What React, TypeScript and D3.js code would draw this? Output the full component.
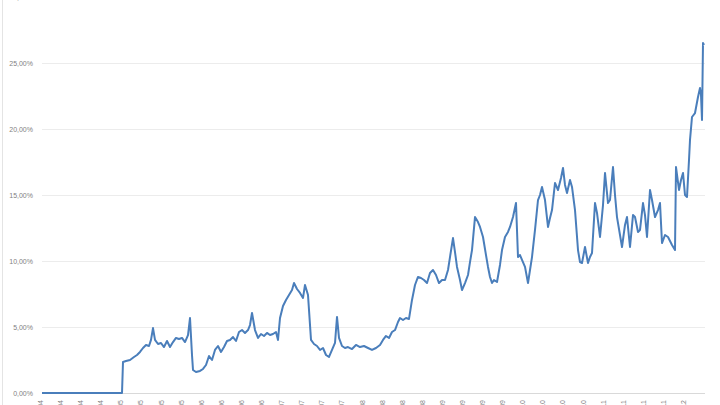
import * as d3 from 'd3';
import { useEffect, useRef } from 'react';

const WIDTH = 720;
const HEIGHT = 405;

// time index (days from start of the series) and the rate in percent
const periods = [
  0, 80, 81, 84, 88, 92, 95, 98, 101, 104, 107, 109, 111, 113, 116, 119, 122, 125, 128, 131,
  134, 137, 140, 143, 146, 148, 150, 151, 154, 158, 161, 164, 167, 170, 173, 176, 179, 182, 185, 188,
  191, 194, 197, 200, 203, 206, 208, 210, 213, 216, 219, 222, 225, 228, 231, 234, 236, 238, 241, 244,
  247, 250, 252, 255, 258, 261, 263, 266, 269, 272, 275, 278, 281, 284, 287, 290, 293, 295, 297, 300,
  303, 306, 310, 314, 318, 322, 326, 330, 334, 338, 341, 344, 347, 350, 353, 356, 358, 361, 364, 367,
  370, 373, 376, 379, 382, 385, 388, 391, 394, 397, 400, 403, 406, 408, 411, 413, 415, 418, 420, 423,
  426, 428, 430, 433, 436, 438, 441, 444, 446, 448, 450, 452, 455, 458, 460, 463, 466, 468, 471, 474,
  476, 478, 480, 483, 486, 488, 490, 493, 496, 498, 500, 503, 506, 508, 510, 513, 516, 519, 521, 523,
  525, 528, 530, 533, 536, 538, 540, 543, 546, 548, 550, 553, 555, 558, 561, 563, 566, 568, 571, 573,
  575, 578, 580, 583, 585, 588, 591, 593, 596, 598, 601, 603, 605, 608, 610, 613, 616, 618, 620, 623,
  626, 630, 633, 634, 637, 639, 641, 643, 645, 647, 648, 650, 653, 656, 658, 659, 660, 661, 662,
];

const rates = [
  0, 0, 2.35, 2.42, 2.5, 2.73, 2.88, 3.11, 3.41, 3.64, 3.56, 4.02, 4.92, 4.02, 3.71, 3.79, 3.48, 3.94, 3.48, 3.86,
  4.17, 4.09, 4.17, 3.86, 4.39, 5.68, 2.88, 1.74, 1.59, 1.67, 1.82, 2.12, 2.8, 2.5, 3.26, 3.56, 3.11, 3.48, 3.94, 4.02,
  4.24, 3.94, 4.62, 4.77, 4.55, 4.77, 5.15, 6.06, 4.77, 4.17, 4.47, 4.32, 4.55, 4.39, 4.47, 4.62, 4.02, 5.68, 6.59, 7.05,
  7.42, 7.8, 8.33, 7.88, 7.58, 7.2, 8.18, 7.42, 4.02, 3.71, 3.56, 3.26, 3.41, 2.88, 2.73, 3.26, 3.79, 5.76, 4.17, 3.56,
  3.41, 3.48, 3.33, 3.64, 3.48, 3.56, 3.41, 3.26, 3.41, 3.64, 4.02, 4.32, 4.17, 4.62, 4.77, 5.38, 5.68, 5.53, 5.68, 5.61,
  7.05, 8.18, 8.79, 8.71, 8.56, 8.33, 9.09, 9.32, 8.94, 8.33, 8.56, 8.56, 9.32, 10.3, 11.74, 10.68, 9.55, 8.56, 7.8, 8.33,
  8.94, 9.92, 10.83, 13.33, 12.95, 12.58, 11.82, 10.45, 9.55, 8.79, 8.33, 8.56, 8.41, 9.7, 10.83, 11.82, 12.2, 12.58, 13.33, 14.39,
  10.3, 10.45, 10.08, 9.55, 8.33, 9.32, 10.3, 12.35, 14.62, 15.0, 15.61, 14.62, 12.58, 13.26, 13.86, 15.91, 15.38, 16.29, 17.05, 15.76,
  15.15, 16.14, 15.61, 13.86, 10.83, 9.92, 9.85, 11.06, 9.85, 10.3, 10.61, 14.39, 13.64, 11.82, 14.24, 16.67, 14.39, 14.62, 17.12, 15.0,
  13.33, 11.97, 11.06, 12.73, 13.33, 11.06, 13.48, 13.33, 12.2, 12.35, 14.39, 13.48, 11.82, 15.38, 14.62, 13.33, 13.86, 14.39, 11.36, 11.97,
  11.82, 11.21, 10.83, 17.12, 15.38, 16.14, 16.67, 15.0, 14.85, 17.65, 19.17, 20.91, 21.21, 22.42, 23.11, 22.58, 20.68, 26.52, 26.36,
];

const yTicks = [0, 5, 10, 15, 20, 25, 30];

const xLabels = [
  '01/2004', '04/2004', '07/2004', '10/2004', '01/2005', '04/2005', '07/2005', '10/2005',
  '01/2006', '04/2006', '07/2006', '10/2006', '01/2007', '04/2007', '07/2007', '10/2007',
  '01/2008', '04/2008', '07/2008', '10/2008', '01/2009', '04/2009', '07/2009', '10/2009',
  '01/2010', '04/2010', '07/2010', '10/2010', '01/2011', '04/2011', '07/2011', '10/2011',
  '01/2012',
];

const margin = { top: 0, right: 15, bottom: 12, left: 42 };

const fmt = (v: number) => `${v.toFixed(2).replace('.', ',')}%`;

export default function App() {
  const ref = useRef<SVGSVGElement>(null);

  useEffect(() => {
    const svg = d3.select(ref.current);
    svg.selectAll('*').remove();

    const x = d3
      .scaleLinear()
      .domain([0, 663])
      .range([margin.left, WIDTH - margin.right]);

    // 0% sits at y=393, 66px per 5%
    const y = d3
      .scaleLinear()
      .domain([0, 30])
      .range([393, 393 - 6 * 66]);

    const xPos = d3
      .scalePoint<string>()
      .domain(xLabels)
      .range([41, 684]);

    svg
      .append('rect')
      .attr('width', WIDTH)
      .attr('height', HEIGHT)
      .attr('fill', '#fff');

    // left border of the chart area
    svg
      .append('line')
      .attr('x1', 2.5)
      .attr('x2', 2.5)
      .attr('y1', 0)
      .attr('y2', HEIGHT)
      .attr('stroke', '#e4e4e4');

    // grid
    svg
      .append('g')
      .selectAll('line')
      .data(yTicks)
      .enter()
      .append('line')
      .attr('x1', margin.left)
      .attr('x2', WIDTH - margin.right)
      .attr('y1', (d) => y(d) + 0.5)
      .attr('y2', (d) => y(d) + 0.5)
      .attr('stroke', (d) => (d === 0 ? '#d9d9d9' : '#ececec'))
      .attr('stroke-width', 1);

    // y labels
    svg
      .append('g')
      .selectAll('text')
      .data(yTicks)
      .enter()
      .append('text')
      .attr('x', 33)
      .attr('y', (d) => y(d) + 2.5)
      .attr('text-anchor', 'end')
      .attr('font-family', 'Liberation Sans, Arial, sans-serif')
      .attr('font-size', 7)
      .attr('fill', '#7f7f7f')
      .text((d) => fmt(d));

    // x labels (mostly off the bottom edge)
    svg
      .append('g')
      .selectAll('text')
      .data(xLabels)
      .enter()
      .append('text')
      .attr('transform', (d) => `translate(${(xPos(d) ?? 0) + 2},400) rotate(-90)`)
      .attr('text-anchor', 'end')
      .attr('font-family', 'Liberation Sans, Arial, sans-serif')
      .attr('font-size', 7)
      .attr('fill', '#7f7f7f')
      .text((d) => d);

    const pts = periods.map((p, i) => [p, rates[i]] as [number, number]);

    svg
      .append('path')
      .datum(pts)
      .attr('fill', 'none')
      .attr('stroke', '#4a7ebb')
      .attr('stroke-width', 2)
      .attr('stroke-linejoin', 'round')
      .attr(
        'd',
        d3
          .line<[number, number]>()
          .x((d) => x(d[0]))
          .y((d) => y(d[1]))
      );
  }, []);

  return (
    <div style={{ position: 'fixed', left: 0, top: 0 }}>
      <svg ref={ref} width={WIDTH} height={HEIGHT} style={{ display: 'block' }} />
    </div>
  );
}
